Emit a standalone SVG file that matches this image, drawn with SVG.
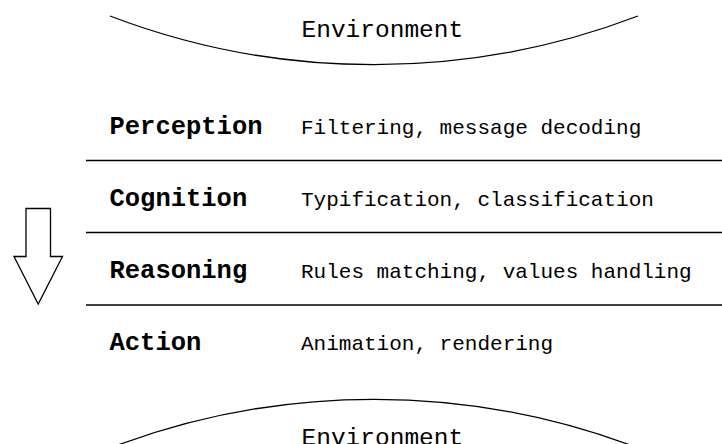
<svg xmlns="http://www.w3.org/2000/svg" width="722" height="444" viewBox="0 0 722 444">
<style>
.env{font-family:"Liberation Mono","Courier New",monospace;font-size:24.5px;fill:#000}
.hd{font-family:"Liberation Mono","Courier New",monospace;font-size:25.5px;font-weight:bold;fill:#000}
.ds{font-family:"Liberation Mono","Courier New",monospace;font-size:21px;fill:#000}
.ln{stroke:#000;stroke-width:1.3;fill:none}
</style>
<rect width="722" height="444" fill="#fff"/>
<g id="env-top">
<path class="ln" d="M110,16 A740,740 0 0 0 638,16"/>
<text class="env" x="301.5" y="37">Environment</text>
</g>
<g id="perception">
<text class="hd" x="109.5" y="134">Perception</text>
<text class="ds" x="301" y="134">Filtering, message decoding</text>
</g>
<g id="cognition">
<text class="hd" x="109.5" y="206">Cognition</text>
<text class="ds" x="301" y="206">Typification, classification</text>
</g>
<g id="reasoning">
<text class="hd" x="109.5" y="278">Reasoning</text>
<text class="ds" x="301" y="278">Rules matching, values handling</text>
</g>
<g id="action">
<text class="hd" x="109.5" y="350">Action</text>
<text class="ds" x="301" y="350">Animation, rendering</text>
</g>
<g id="env-bottom">
<path class="ln" d="M110,448 A740,740 0 0 1 638,448"/>
<text class="env" x="301.5" y="445">Environment</text>
</g>
<g id="connectors">
<line class="ln" x1="86" y1="160.5" x2="722" y2="160.5"/>
<line class="ln" x1="86" y1="232.5" x2="722" y2="232.5"/>
<line class="ln" x1="86" y1="305" x2="722" y2="305"/>
<polygon class="ln" points="26,208.5 50.5,208.5 50.5,256.5 62.5,256.5 38.2,304 14,256.5 26,256.5"/>
</g>
</svg>
